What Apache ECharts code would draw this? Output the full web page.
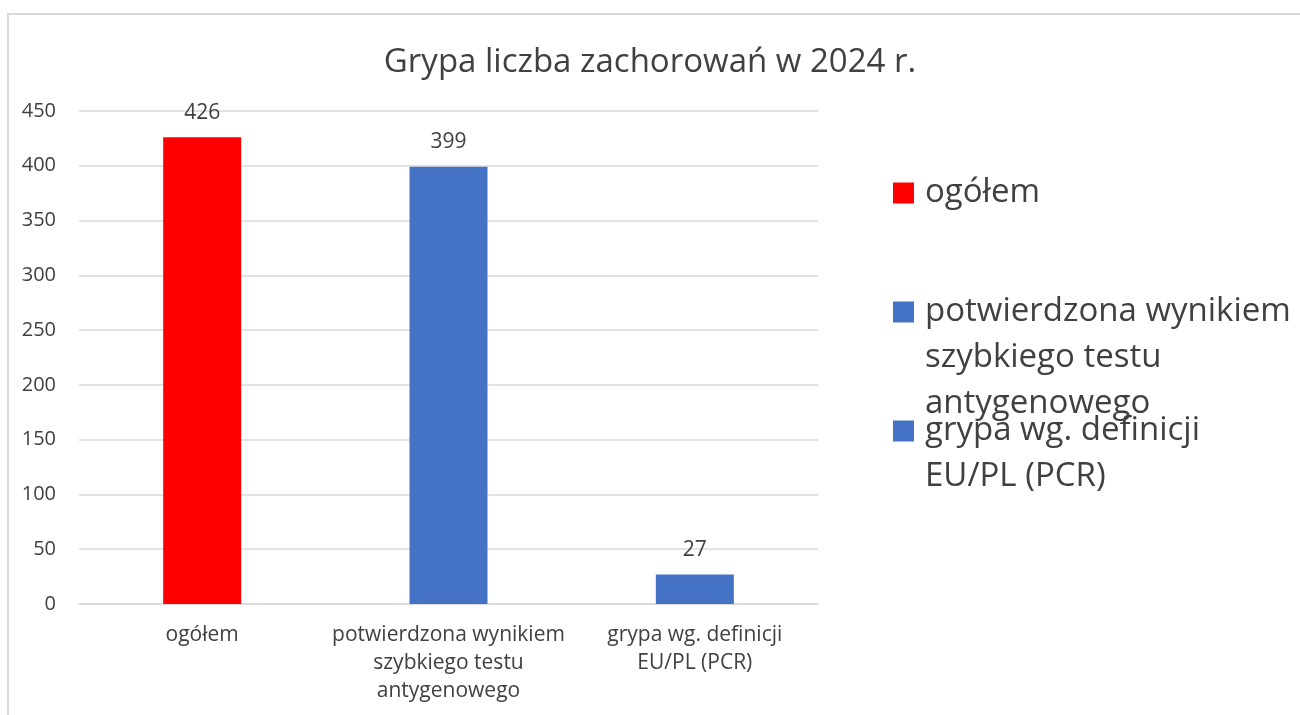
<!DOCTYPE html>
<html>
<head>
<meta charset="utf-8">
<script src="https://cdn.jsdelivr.net/npm/echarts@6/dist/echarts.min.js"></script>
<style>
  body { margin: 0; background: #fff; }
  #main { position: absolute; left: 0; top: 0; width: 1300px; height: 715px; }
  #frame { position: absolute; left: 7px; top: 13px; width: 1400px; height: 800px;
           border-left: 2px solid #d9d9d9; border-top: 2px solid #d9d9d9; pointer-events: none; }
</style>
</head>
<body>
<div id="main"></div>
<div id="frame"></div>
<script>
// dane
var categories = ['ogółem', 'potwierdzona wynikiem\nszybkiego testu\nantygenowego', 'grypa wg. definicji\nEU/PL (PCR)'];
var legend_names = ['ogółem', 'potwierdzona wynikiem\nszybkiego testu\nantygenowego', 'grypa wg. definicji\nEU/PL (PCR)'];
var values = [426, 399, 27];
var colors = ['#ff0000', '#4472c4', '#4472c4'];
var y_ticks = [0, 50, 100, 150, 200, 250, 300, 350, 400, 450];

var font = 'Open Sans';
var text_color = '#404040';

// one series per category so every bar gets its own legend entry
var series_list = [];
var i;
for (i = 0; i < values.length; i++) {
  var data = [];
  for (var j = 0; j < values.length; j++) {
    data.push(j == i ? values[i] : '-');
  }
  series_list.push({
    name: legend_names[i],
    type: 'bar',
    stack: 'all',
    barWidth: 78,
    itemStyle: { color: colors[i] },
    label: {
      show: true,
      position: 'top',
      distance: 14,
      fontFamily: font,
      fontSize: 21,
      color: text_color
    },
    data: data
  });
}

// legend: symbol sits next to the first text line, so pad with blank lines above
var legend_centers = [193, 312, 431];
var line_h = 46;
var legends = [];
for (i = 0; i < legend_names.length; i++) {
  var lines = legend_names[i].split('\n').length;
  var blank = lines - 1;
  var block = (blank + lines) * line_h;
  legends.push({
    data: [legend_names[i]],
    left: 893,
    top: legend_centers[i] - block / 2,
    padding: 0,
    icon: 'rect',
    itemWidth: 21,
    itemHeight: 21,
    selectedMode: false,
    formatter: (function (b) {
      return function (name) {
        var s = '';
        for (var k = 0; k < b; k++) s += ' \n';
        return s + name;
      };
    })(blank),
    textStyle: {
      fontFamily: font,
      fontSize: 33,
      color: text_color,
      lineHeight: line_h,
      padding: [0, 0, 0, 6]
    }
  });
}

var chart = echarts.init(document.getElementById('main'));
chart.setOption({
  animation: false,
  backgroundColor: '#fff',
  title: {
    text: 'Grypa liczba zachorowań w 2024 r.',
    left: 'center',
    top: 41,
    textStyle: { fontFamily: font, fontSize: 33, fontWeight: 'normal', color: text_color }
  },
  legend: legends,
  grid: { left: 79, right: 482, top: 111, bottom: 111, containLabel: false },
  xAxis: {
    type: 'category',
    data: categories,
    axisLine: { lineStyle: { color: '#d9d9d9', width: 1.5 } },
    axisTick: { show: false },
    axisLabel: {
      interval: 0,
      margin: 17,
      fontFamily: font,
      fontSize: 21,
      lineHeight: 28,
      color: text_color
    }
  },
  yAxis: {
    type: 'value',
    min: y_ticks[0],
    max: y_ticks[y_ticks.length - 1],
    interval: 50,
    axisLine: { show: false },
    axisTick: { show: false },
    splitLine: { lineStyle: { color: '#d9d9d9', width: 1.5 } },
    axisLabel: { margin: 23, fontFamily: font, fontSize: 20, color: text_color }
  },
  series: series_list
});
</script>
</body>
</html>
